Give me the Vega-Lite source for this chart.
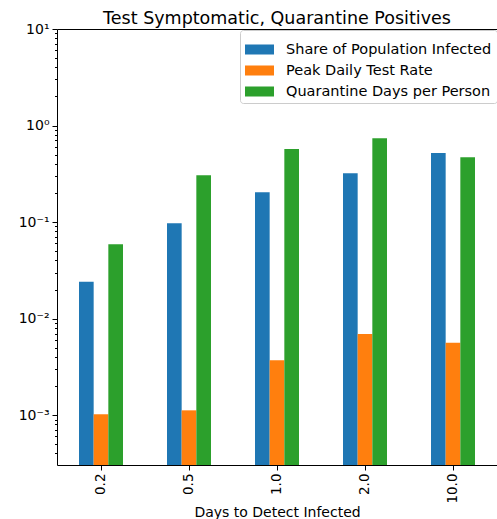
{
  "$schema": "https://vega.github.io/schema/vega-lite/v6.json",
  "width": 440,
  "height": 436,
  "autosize": {"type": "none"},
  "padding": {"left": 57, "top": 29, "right": 0, "bottom": 54},
  "title": {"text": "Test Symptomatic, Quarantine Positives", "font": "DejaVu Sans", "fontSize": 17.5, "fontWeight": "normal", "color": "#000", "offset": -5, "anchor": "middle"},
  "config": {
    "view": {"stroke": "#000", "strokeWidth": 1},
    "font": "DejaVu Sans"
  },
  "data": {
    "values": [
      {"days": "0.2", "series": "Share of Population Infected", "value": 0.024},
      {"days": "0.2", "series": "Peak Daily Test Rate", "value": 0.00102},
      {"days": "0.2", "series": "Quarantine Days per Person", "value": 0.059},
      {"days": "0.5", "series": "Share of Population Infected", "value": 0.097},
      {"days": "0.5", "series": "Peak Daily Test Rate", "value": 0.00112},
      {"days": "0.5", "series": "Quarantine Days per Person", "value": 0.306},
      {"days": "1.0", "series": "Share of Population Infected", "value": 0.204},
      {"days": "1.0", "series": "Peak Daily Test Rate", "value": 0.0037},
      {"days": "1.0", "series": "Quarantine Days per Person", "value": 0.57},
      {"days": "2.0", "series": "Share of Population Infected", "value": 0.32},
      {"days": "2.0", "series": "Peak Daily Test Rate", "value": 0.0069},
      {"days": "2.0", "series": "Quarantine Days per Person", "value": 0.74},
      {"days": "10.0", "series": "Share of Population Infected", "value": 0.52},
      {"days": "10.0", "series": "Peak Daily Test Rate", "value": 0.0056},
      {"days": "10.0", "series": "Quarantine Days per Person", "value": 0.47}
    ]
  },
  "mark": {"type": "bar"},
  "encoding": {
    "x": {
      "field": "days", "type": "nominal", "sort": ["0.2", "0.5", "1.0", "2.0", "10.0"],
      "scale": {"paddingInner": 0.5, "paddingOuter": 0.25},
      "axis": {
        "title": "Days to Detect Infected", "titleFont": "DejaVu Sans", "titleFontSize": 14, "titleFontWeight": "normal", "titleColor": "#000", "titlePadding": 2,
        "labelAngle": -90, "labelFont": "DejaVu Sans", "labelFontSize": 13.5, "labelColor": "#000", "labelPadding": 3,
        "tickColor": "#000", "tickSize": 5, "domain": false, "grid": false
      }
    },
    "xOffset": {"field": "series", "type": "nominal", "sort": ["Share of Population Infected", "Peak Daily Test Rate", "Quarantine Days per Person"], "scale": {"paddingInner": 0, "paddingOuter": 0}},
    "y": {
      "field": "value", "type": "quantitative",
      "scale": {"type": "log", "domain": [0.000304, 10], "nice": false},
      "axis": {
        "title": null,
        "values": [0.0004, 0.0005, 0.0006, 0.0007, 0.0008, 0.0009, 0.001, 0.002, 0.003, 0.004, 0.005, 0.006, 0.007, 0.008, 0.009, 0.01, 0.02, 0.03, 0.04, 0.05, 0.06, 0.07, 0.08, 0.09, 0.1, 0.2, 0.3, 0.4, 0.5, 0.6, 0.7, 0.8, 0.9, 1, 2, 3, 4, 5, 6, 7, 8, 9, 10],
        "labelExpr": "abs(log(datum.value)/LN10 - round(log(datum.value)/LN10)) < 0.01 ? ['10\u207b\u00b3','10\u207b\u00b2','10\u207b\u00b9','10\u2070','10\u00b9'][round(log(datum.value)/LN10)+3] : ''",
        "labelFont": "DejaVu Sans", "labelFontSize": 14, "labelColor": "#000", "labelPadding": 3,
        "tickColor": "#000",
        "tickSize": {"condition": {"test": "abs(log(datum.value)/LN10 - round(log(datum.value)/LN10)) < 0.01", "value": 5}, "value": 2.5},
        "domain": false, "grid": false, "labelOverlap": false, "labelBound": false
      }
    },
    "y2": {"datum": 0.000304},
    "color": {
      "field": "series", "type": "nominal",
      "scale": {"domain": ["Share of Population Infected", "Peak Daily Test Rate", "Quarantine Days per Person"], "range": ["#1f77b4", "#ff7f0e", "#2ca02c"]},
      "legend": {
        "title": null, "orient": "none", "legendX": 183, "legendY": 1,
        "symbolType": "M-1,-0.345H1V0.345H-1Z", "symbolSize": 841, "symbolStrokeWidth": 0, "symbolOpacity": 1,
        "labelFont": "DejaVu Sans", "labelFontSize": 14.5, "labelColor": "#000", "labelOffset": 12,
        "padding": 5, "rowPadding": 0, "strokeColor": "#cccccc", "fillColor": "rgba(255,255,255,0.8)", "cornerRadius": 3,
        "labelLimit": 300
      }
    }
  }
}
